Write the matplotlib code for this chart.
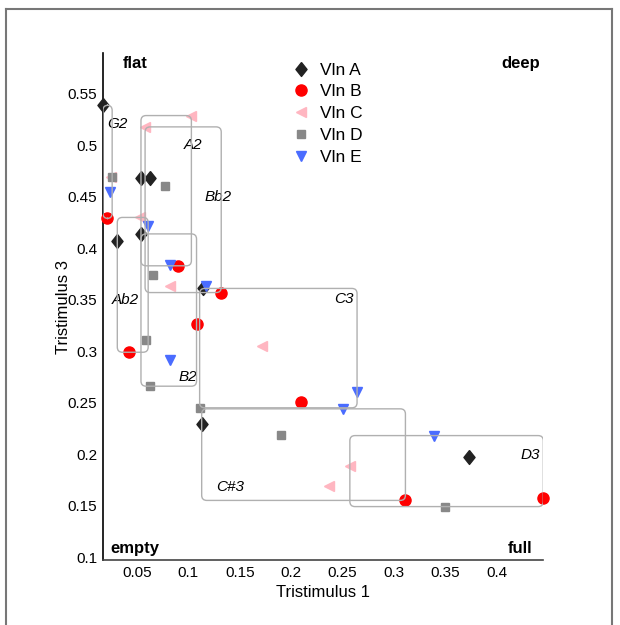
import matplotlib
matplotlib.use("Agg")
import matplotlib.pyplot as plt
from matplotlib.patches import FancyBboxPatch
from matplotlib.lines import Line2D

plt.rcParams['font.family'] = ['Liberation Sans', 'DejaVu Sans']

notes = ["G2", "Ab2", "A2", "Bb2", "B2", "C3", "C#3", "D3"]
violins = ["Vln A", "Vln B", "Vln C", "Vln D", "Vln E"]

# tristimulus 1 / tristimulus 3 per violin, one value per note
t1_a = [0.017, 0.031, 0.054, 0.063, 0.054, 0.114, 0.113, 0.373]
t3_a = [0.539, 0.407, 0.468, 0.468, 0.414, 0.361, 0.229, 0.197]
t1_b = [0.021, 0.042, 0.090, 0.132, 0.108, 0.210, 0.311, 0.445]
t3_b = [0.429, 0.299, 0.383, 0.357, 0.326, 0.251, 0.155, 0.157]
t1_c = [0.025, 0.053, 0.103, 0.058, 0.082, 0.172, 0.237, 0.257]
t3_c = [0.469, 0.430, 0.529, 0.518, 0.363, 0.305, 0.169, 0.188]
t1_d = [0.026, 0.059, 0.077, 0.066, 0.063, 0.111, 0.190, 0.349]
t3_d = [0.469, 0.311, 0.461, 0.374, 0.266, 0.245, 0.219, 0.149]
t1_e = [0.024, 0.061, 0.082, 0.117, 0.082, 0.264, 0.250, 0.339]
t3_e = [0.455, 0.422, 0.384, 0.363, 0.291, 0.260, 0.244, 0.218]

t1 = [t1_a, t1_b, t1_c, t1_d, t1_e]
t3 = [t3_a, t3_b, t3_c, t3_d, t3_e]

diamond = [(0, 1), (0.8, 0), (0, -1), (-0.8, 0), (0, 1)]
markers = [diamond, "o", "<", "s", "v"]
colours = ["#222222", "#ff0000", "#ffb6c1", "#888888", "#4a6cff"]
sizes = [10, 8, 7.5, 6, 7.5]

# where the note names sit
label_pos = {"G2": (0.0307, 0.521), "Ab2": (0.0385, 0.350), "A2": (0.1046, 0.500),
             "Bb2": (0.1289, 0.450), "B2": (0.0997, 0.275), "C3": (0.2513, 0.351),
             "C#3": (0.1405, 0.168), "D3": (0.4321, 0.199)}

fig = plt.figure(figsize=(6.2, 6.25), dpi=100)
ax = fig.add_axes([103/620, 65/625, 440/620, 507/625])

for i in range(len(violins)):
    ax.plot(t1[i], t3[i], linestyle="none", marker=markers[i], color=colours[i],
            markersize=sizes[i], label=violins[i], zorder=3, clip_on=False)

# bounding box of every note over the five violins
for n in range(len(notes)):
    xs = [t1[i][n] for i in range(len(violins))]
    ys = [t3[i][n] for i in range(len(violins))]
    box = FancyBboxPatch((min(xs), min(ys)), max(xs) - min(xs), max(ys) - min(ys),
                         boxstyle="round,pad=0,rounding_size=0.005",
                         fill=False, edgecolor="#b0b0b0", linewidth=1.0, zorder=4)
    ax.add_patch(box)
    lx, ly = label_pos[notes[n]]
    ax.text(lx, ly, notes[n], style="italic", fontsize=11, ha="center", va="center")

ax.set_xlim(0.0171, 0.4447)
ax.set_ylim(0.0971, 0.5898)
ax.set_xticks([0.05, 0.1, 0.15, 0.2, 0.25, 0.3, 0.35, 0.4])
ax.set_xticklabels(["0.05", "0.1", "0.15", "0.2", "0.25", "0.3", "0.35", "0.4"])
ax.set_yticks([0.1, 0.15, 0.2, 0.25, 0.3, 0.35, 0.4, 0.45, 0.5, 0.55])
ax.set_yticklabels(["0.1", "0.15", "0.2", "0.25", "0.3", "0.35", "0.4", "0.45", "0.5", "0.55"])
ax.tick_params(length=0, labelsize=11, pad=4)
ax.spines["top"].set_visible(False)
ax.spines["right"].set_visible(False)
ax.spines["left"].set_color("black")
ax.spines["bottom"].set_color("#444444")
ax.spines["left"].set_linewidth(1.2)
ax.spines["bottom"].set_linewidth(1.2)
ax.set_xlabel("Tristimulus 1", fontsize=12, labelpad=4)
ax.set_ylabel("Tristimulus 3", fontsize=12, labelpad=-2)

ax.text(0.0366, 0.58, "flat", fontweight="bold", fontsize=12, va="center", ha="left")
ax.text(0.4418, 0.58, "deep", fontweight="bold", fontsize=12, va="center", ha="right")
ax.text(0.0239, 0.1087, "empty", fontweight="bold", fontsize=12, va="center", ha="left")
ax.text(0.434, 0.1087, "full", fontweight="bold", fontsize=12, va="center", ha="right")

ax.legend(loc="upper left", bbox_to_anchor=(0.41, 0.995), frameon=False, fontsize=12.5,
          handletextpad=0.5, labelspacing=0.38, borderaxespad=0, handlelength=1.2)

# figure frame
fig.add_artist(Line2D([6/620, 6/620], [0, 1 - 9/625], color="#777777", lw=1.5))
fig.add_artist(Line2D([6/620, 612/620], [1 - 9/625, 1 - 9/625], color="#777777", lw=1.5))
fig.add_artist(Line2D([612/620, 612/620], [0, 1 - 9/625], color="#777777", lw=1.5))

fig.savefig("out.png", dpi=100)
